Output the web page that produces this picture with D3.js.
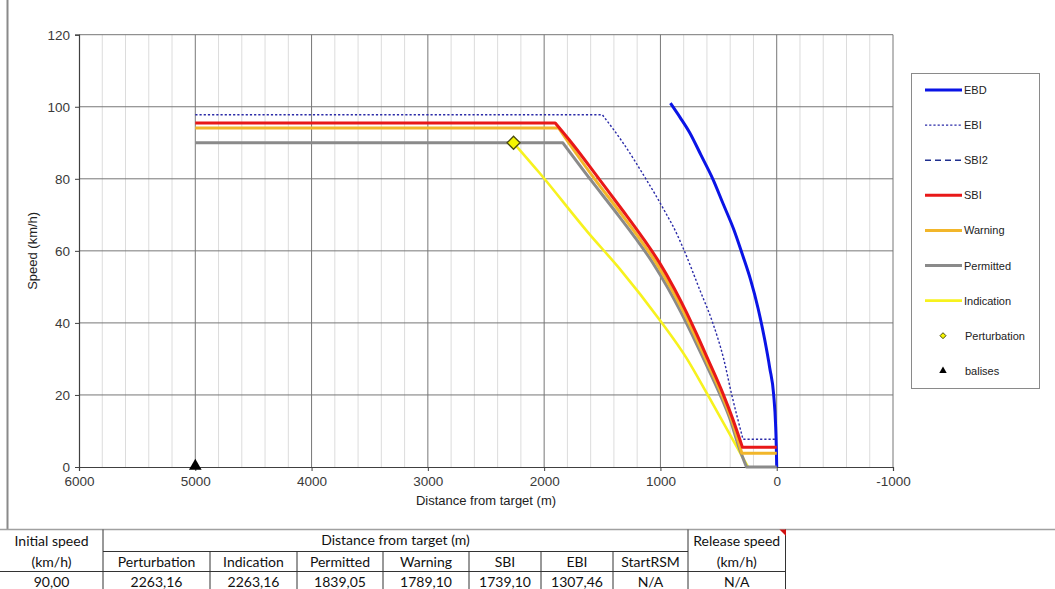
<!DOCTYPE html>
<html>
<head>
<meta charset="utf-8">
<script src="https://cdn.jsdelivr.net/npm/d3@7"></script>
<style>
  html, body { margin: 0; padding: 0; background: #fff; }
  svg { display: block; }
</style>
</head>
<body>
<svg id="chart" width="1055" height="589"></svg>
<script>
// ---------- data ----------
const xTicks = [6000, 5000, 4000, 3000, 2000, 1000, 0, -1000];
const yTicks = [0, 20, 40, 60, 80, 100, 120];
const xMinorStep = 200;

// [distance (m), speed (km/h)]
const ebd = [[914,101],[830,97],[748,92.8],[650,86.5],[550,80],[460,73],[370,66],[290,58.5],[225,52],[160,44],[103,35.3],[60,27.5],[26,20],[10,12],[3,5],[0,0]];
const ebi = [[5000,97.8],[1500,97.8],[1322,90],[1120,79.7],[1006,73.5],[937,69.5],[894,67],[808,61],[662,49.2],[550,40],[456,30],[390,20.5],[290,7.7],[0,7.7]];
const sbi2 = [];
const sbi = [[5000,95.5],[1905,95.5],[1754,89.6],[1522,79.7],[1324,71.2],[1152,63.6],[1006,56.6],[880,49.5],[777,43],[690,37],[593,30],[464,20.5],[380,13.5],[295,5.5],[0,5.5]];
const warning = [[5000,94.1],[1875,94.1],[1789,90],[1560,79.7],[1359,71.2],[1184,63.6],[1035,56.6],[906,49.5],[800,43],[711,37],[611,30],[478,20.5],[392,13.5],[300,3.8],[0,3.8]];
const permitted = [[5000,90],[1839,90],[1599,79.7],[1394,71.2],[1216,63.6],[1064,56.6],[932,49.5],[824,43],[732,37],[629,30],[493,20.5],[404,13.5],[330,6],[260,0],[0,0]];
const indication = [[2263.16,90],[2039,81.6],[1620,65],[1350,55],[1006,40.8],[777,30.3],[593,20],[420,10],[247,0]];
const perturbation = [[2263.16,90]];
const balises = [[5000,0]];

const legendNames = ["EBD","EBI","SBI2","SBI","Warning","Permitted","Indication","Perturbation","balises"];

const tableTop = ["Initial speed", "Distance from target (m)", "Release speed"];
const tableSub = ["(km/h)","Perturbation","Indication","Permitted","Warning","SBI","EBI","StartRSM","(km/h)"];
const tableVals = ["90,00","2263,16","2263,16","1839,05","1789,10","1739,10","1307,46","N/A","N/A"];

// ---------- layout ----------
const svg = d3.select("#chart");
const W = 1055, H = 589;
const plot = {left: 79, right: 893, top: 34.7, bottom: 467};

const x = d3.scaleLinear().domain([6000, -1000]).range([plot.left, plot.right]);
const y = d3.scaleLinear().domain([0, 120]).range([plot.bottom, plot.top]);

const FONT = "'Liberation Sans', Arial, sans-serif";

// outer chart frame
svg.append("line").attr("x1", 7.5).attr("x2", 7.5).attr("y1", 0).attr("y2", 529)
  .attr("stroke", "#8a8a8a").attr("stroke-width", 2);
svg.append("line").attr("x1", 0).attr("x2", W).attr("y1", 529.5).attr("y2", 529.5)
  .attr("stroke", "#a0a0a0").attr("stroke-width", 1.5);

// minor vertical grid
const minor = d3.range(6000, -1000 - 1, -xMinorStep).filter(v => v % 1000 !== 0);
svg.append("g").selectAll("line").data(minor).join("line")
  .attr("x1", d => x(d)).attr("x2", d => x(d))
  .attr("y1", plot.top).attr("y2", plot.bottom)
  .attr("stroke", "#dcdcdc").attr("stroke-width", 1);

// major grid
const gridG = svg.append("g");
gridG.selectAll("line.v").data(xTicks.slice(1)).join("line").attr("class","v")
  .attr("x1", d => x(d)).attr("x2", d => x(d))
  .attr("y1", plot.top).attr("y2", plot.bottom)
  .attr("stroke", "#777").attr("stroke-width", 1);
gridG.selectAll("line.h").data(yTicks.slice(1)).join("line").attr("class","h")
  .attr("x1", plot.left).attr("x2", plot.right)
  .attr("y1", d => y(d)).attr("y2", d => y(d))
  .attr("stroke", "#777").attr("stroke-width", 1);

// axes
const fmt = d => String(d);
const xAxis = d3.axisBottom(x).tickValues(xTicks).tickSize(4).tickPadding(5).tickFormat(fmt);
const yAxis = d3.axisLeft(y).tickValues(yTicks).tickSize(4).tickPadding(5).tickFormat(fmt);
const gx = svg.append("g").attr("transform", `translate(0,${plot.bottom})`).call(xAxis);
const gy = svg.append("g").attr("transform", `translate(${plot.left},0)`).call(yAxis);
[gx, gy].forEach(g => {
  g.attr("font-family", FONT).attr("font-size", 13.5);
  g.select(".domain").attr("stroke", "#404040").attr("stroke-width", 1.2);
  g.selectAll(".tick line").attr("stroke", "#404040");
  g.selectAll("text").attr("fill", "#3a3a3a");
});

svg.append("text").attr("x", (plot.left + plot.right) / 2).attr("y", 505)
  .attr("text-anchor", "middle").attr("font-family", FONT).attr("font-size", 13).attr("fill", "#222")
  .text("Distance from target (m)");
svg.append("text").attr("transform", `translate(37,${(plot.top + plot.bottom) / 2}) rotate(-90)`)
  .attr("text-anchor", "middle").attr("font-family", FONT).attr("font-size", 13).attr("fill", "#222")
  .text("Speed (km/h)");

// series
const lineLin = d3.line().x(d => x(d[0])).y(d => y(d[1])).curve(d3.curveLinear);
const lineSmooth = d3.line().x(d => x(d[0])).y(d => y(d[1])).curve(d3.curveMonotoneX);
const styles = {
  EBD: {stroke: "#0a14e6", width: 3, dash: null},
  EBI: {stroke: "#2b2ba8", width: 1.4, dash: "2.2,2"},
  SBI2: {stroke: "#1f2f8f", width: 1.4, dash: "6,4"},
  SBI: {stroke: "#e81818", width: 3, dash: null},
  Warning: {stroke: "#f2b62a", width: 3, dash: null},
  Permitted: {stroke: "#8a8a8a", width: 3, dash: null},
  Indication: {stroke: "#f7f21e", width: 2.6, dash: null}
};
const seriesData = {EBD: ebd, EBI: ebi, SBI2: sbi2, SBI: sbi, Warning: warning, Permitted: permitted, Indication: indication};
const flatHead = {EBI: true, SBI: true, Warning: true, Permitted: true};
const flatTail = {EBI: true, SBI: true, Warning: true, Permitted: true};
const drawOrder = ["EBD","EBI","SBI2","Indication","Permitted","Warning","SBI"];
drawOrder.forEach(name => {
  const data = seriesData[name];
  if (!data.length) return;
  const s = styles[name];
  const n = data.length;
  const i0 = flatHead[name] ? 1 : 0;
  const i1 = flatTail[name] ? n - 2 : n - 1;
  let d = "";
  if (i0 === 1) d += lineLin(data.slice(0, 2));
  const mid = lineSmooth(data.slice(i0, i1 + 1));
  d += (d ? "L" + mid.slice(1) : mid);
  if (i1 === n - 2) d += "L" + x(data[n - 1][0]) + "," + y(data[n - 1][1]);
  svg.append("path").attr("d", d)
    .attr("fill", "none").attr("stroke", s.stroke).attr("stroke-width", s.width)
    .attr("stroke-dasharray", s.dash).attr("stroke-linejoin", "round");
});

// markers
const diamondPath = r => `M0,${-r}L${r},0L0,${r}L${-r},0Z`;
svg.append("g").selectAll("path").data(perturbation).join("path")
  .attr("transform", d => `translate(${x(d[0])},${y(d[1])})`)
  .attr("d", diamondPath(6.5)).attr("fill", "#f5f500").attr("stroke", "#4a4a10").attr("stroke-width", 1.3);
const tri = d3.symbol().type(d3.symbolTriangle).size(70);
svg.append("g").selectAll("path").data(balises).join("path")
  .attr("transform", d => `translate(${x(d[0])},${y(d[1]) - 1})`)
  .attr("d", tri).attr("fill", "#000");

// legend
const lg = svg.append("g");
lg.append("rect").attr("x", 911.5).attr("y", 73.5).attr("width", 128).attr("height", 315)
  .attr("fill", "#fff").attr("stroke", "#8a8a8a").attr("stroke-width", 1);
const legendY0 = 90, legendStep = 35.1;
legendNames.forEach((name, i) => {
  const yy = legendY0 + i * legendStep;
  if (styles[name]) {
    const s = styles[name];
    lg.append("line").attr("x1", 925).attr("x2", 962).attr("y1", yy).attr("y2", yy)
      .attr("stroke", s.stroke).attr("stroke-width", s.width).attr("stroke-dasharray", s.dash);
  } else if (name === "Perturbation") {
    lg.append("path").attr("transform", `translate(943,${yy})`)
      .attr("d", diamondPath(3))
      .attr("fill", "#f5f500").attr("stroke", "#4a4a10").attr("stroke-width", 1);
  } else {
    lg.append("path").attr("transform", `translate(943,${yy})`)
      .attr("d", d3.symbol().type(d3.symbolTriangle).size(24)).attr("fill", "#000");
  }
  lg.append("text").attr("x", name === "Perturbation" || name === "balises" ? 965 : 964).attr("y", yy + 4)
    .attr("font-family", FONT).attr("font-size", 11).attr("fill", "#222").text(name);
});

// table
const TFONT = "Lato, 'Open Sans', sans-serif";
const colEdges = [0, 103, 210, 297, 383, 469, 541, 613, 688, 785.5];
const rowY = [529.5, 551.5, 571.5, 592];
const tg = svg.append("g");
const tcol = "#333";
tg.append("line").attr("x1", colEdges[1]).attr("x2", colEdges[8]).attr("y1", rowY[1]).attr("y2", rowY[1]).attr("stroke", tcol);
tg.append("line").attr("x1", 0).attr("x2", colEdges[9]).attr("y1", rowY[2]).attr("y2", rowY[2]).attr("stroke", tcol);
colEdges.forEach((cx, i) => {
  if (i === 0) return;
  const top = (i >= 2 && i <= 7) ? rowY[1] : rowY[0];
  tg.append("line").attr("x1", cx).attr("x2", cx).attr("y1", top).attr("y2", H).attr("stroke", tcol);
});
const mid = (a, b) => (a + b) / 2;
const tText = (tx, ty, s) => tg.append("text").attr("x", tx).attr("y", ty).attr("text-anchor", "middle")
  .attr("font-family", TFONT).attr("font-size", 14).attr("fill", "#111").text(s);
tText(mid(colEdges[0], colEdges[1]), 546, tableTop[0]);
tText(mid(colEdges[1], colEdges[8]), 545, tableTop[1]);
tText(mid(colEdges[8], colEdges[9]), 546, tableTop[2]);
tableSub.forEach((s, i) => tText(mid(colEdges[i], colEdges[i + 1]), 567, s));
tableVals.forEach((s, i) => tText(mid(colEdges[i], colEdges[i + 1]), 587, s));
tg.append("path").attr("d", `M${colEdges[9] - 6},${rowY[0]} L${colEdges[9] + 0.5},${rowY[0]} L${colEdges[9] + 0.5},${rowY[0] + 6.5} Z`).attr("fill", "#d01010");
</script>
</body>
</html>
